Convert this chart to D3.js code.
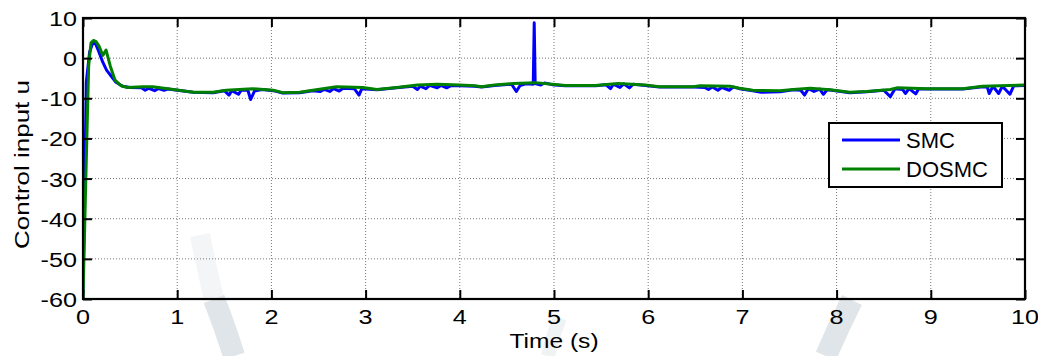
<!DOCTYPE html>
<html>
<head>
<meta charset="utf-8">
<script src="https://cdn.jsdelivr.net/npm/d3@7"></script>
<style>
  body { margin: 0; background: #fff; }
  text { font-family: "Liberation Sans", Arial, sans-serif; fill: #000; }
</style>
</head>
<body>
<div id="chart"></div>
<script>
// time ticks and value ticks
const xTicks = [0, 1, 2, 3, 4, 5, 6, 7, 8, 9, 10];
const yTicks = [-60, -50, -40, -30, -20, -10, 0, 10];

// DOSMC control input [t, u]
const dosmc = [
  [0, -60], [0.03, -30], [0.06, -2], [0.085, 3.8], [0.11, 4.4], [0.14, 4.1],
  [0.17, 3.0], [0.21, 0.7], [0.245, 2.0], [0.29, -2], [0.34, -5.5], [0.40, -6.8],
  [0.47, -7.3], [0.64, -7.1], [0.74, -7.1], [0.96, -7.8], [1.17, -8.5], [1.38, -8.5],
  [1.52, -8.0], [1.8, -7.6], [2.02, -8.0], [2.12, -8.6], [2.3, -8.5], [2.44, -8.0],
  [2.69, -7.1], [2.97, -7.3], [3.12, -7.8], [3.33, -7.3], [3.55, -6.7], [3.76, -6.5],
  [4.0, -6.7], [4.16, -6.9], [4.23, -7.1], [4.37, -6.7], [4.57, -6.3], [4.8, -6.1],
  [4.98, -6.5], [5.12, -6.8], [5.44, -6.8], [5.68, -6.3], [5.97, -6.7], [6.12, -7.1],
  [6.48, -7.1], [6.55, -6.9], [6.87, -7.0], [6.97, -7.5], [7.11, -8.0], [7.4, -8.1],
  [7.54, -7.8], [7.72, -7.5], [7.93, -7.9], [8.14, -8.5], [8.32, -8.3], [8.57, -7.8],
  [8.64, -7.4], [8.96, -7.6], [9.34, -7.6], [9.55, -7.0], [10, -6.7]
];

// SMC control input, with the chattering dips and the spike near 4.8 s
const smc = [
  [0, -58], [0.02, -30], [0.035, -6], [0.07, 1.5], [0.1, 3.5], [0.13, 3.8],
  [0.17, 1.5], [0.21, -1], [0.25, -3], [0.29, -4.2], [0.35, -6], [0.42, -7],
  [0.5, -7.3], [0.62, -7.4], [0.66, -8.0], [0.7, -7.5], [0.76, -8.1], [0.8, -7.6],
  [0.86, -8.0], [0.9, -7.7], [0.96, -7.9], [1.17, -8.5], [1.38, -8.6], [1.5, -8.1],
  [1.55, -9.2], [1.58, -8.1], [1.65, -9.0], [1.68, -8.0], [1.75, -8.0], [1.78, -10.3],
  [1.82, -8.2], [1.9, -7.8], [2.02, -8.1], [2.12, -8.7], [2.3, -8.6], [2.44, -8.1],
  [2.52, -8.3], [2.56, -7.8], [2.62, -8.3], [2.66, -7.6], [2.72, -8.2], [2.76, -7.5],
  [2.88, -7.6], [2.93, -9.2], [2.96, -7.6], [3.12, -7.9], [3.33, -7.4], [3.5, -7.0],
  [3.55, -7.8], [3.58, -7.0], [3.64, -7.6], [3.68, -6.8], [3.76, -7.4], [3.8, -6.8],
  [3.86, -7.4], [3.9, -6.9], [4.0, -6.9], [4.16, -7.0], [4.23, -7.2], [4.37, -6.8],
  [4.55, -6.5], [4.6, -8.3], [4.64, -6.8], [4.7, -6.4], [4.78, -6.5], [4.79, 8.8],
  [4.8, -6.3], [4.86, -6.7], [4.9, -6.2], [4.98, -6.6], [5.12, -6.9], [5.44, -6.9],
  [5.55, -6.6], [5.6, -7.6], [5.63, -6.5], [5.7, -7.3], [5.74, -6.4], [5.8, -7.4],
  [5.84, -6.5], [5.97, -6.8], [6.12, -7.2], [6.48, -7.2], [6.6, -7.3], [6.64, -7.8],
  [6.68, -7.2], [6.74, -8.0], [6.78, -7.3], [6.86, -8.0], [6.9, -7.2], [6.97, -7.6],
  [7.11, -8.1], [7.2, -8.5], [7.4, -8.4], [7.54, -7.9], [7.62, -8.0], [7.66, -9.2],
  [7.7, -7.6], [7.76, -8.3], [7.82, -7.7], [7.86, -9.0], [7.9, -7.9], [7.95, -8.0],
  [8.14, -8.6], [8.32, -8.4], [8.5, -8.0], [8.57, -9.6], [8.62, -7.6], [8.7, -7.8],
  [8.73, -8.8], [8.77, -7.6], [8.84, -8.9], [8.87, -7.7], [8.96, -7.7], [9.34, -7.7],
  [9.55, -7.1], [9.6, -7.2], [9.62, -8.8], [9.66, -7.0], [9.72, -8.8], [9.76, -7.0],
  [9.84, -9.0], [9.88, -6.9], [10, -6.8]
];

const seriesNames = ["SMC", "DOSMC"];
const seriesColors = ["#0000ff", "#008000"];

// layout
const W = 1038, H = 356;
const margin = { top: 18, right: 13, bottom: 57, left: 83 };
const width = W - margin.left - margin.right;
const height = H - margin.top - margin.bottom;

const svg = d3.select("#chart")
  .append("svg")
  .attr("width", W)
  .attr("height", H);

// faint watermark from the scanned page, stronger below the axes
const wm = svg.append("g").attr("fill", "none");
wm.append("path").attr("d", "M200,235 Q207,270 214,299")
  .attr("stroke", "#f3f5f6").attr("stroke-width", 20);
wm.append("path").attr("d", "M214,299 Q226,330 234,356")
  .attr("stroke", "#dfe5e8").attr("stroke-width", 22);
wm.append("path").attr("d", "M852,300 Q838,328 826,356")
  .attr("stroke", "#dfe5e8").attr("stroke-width", 22);
wm.append("path").attr("d", "M560,318 Q552,338 548,356")
  .attr("stroke", "#f0f3f4").attr("stroke-width", 14);

const g = svg.append("g")
  .attr("transform", "translate(" + margin.left + "," + margin.top + ")");

const x = d3.scaleLinear().domain([0, 10]).range([0, width]);
const y = d3.scaleLinear().domain([-60, 10]).range([height, 0]);

// dotted grid
g.append("g")
  .selectAll("line")
  .data(xTicks.slice(1, -1))
  .enter().append("line")
  .attr("x1", d => x(d)).attr("x2", d => x(d))
  .attr("y1", 0).attr("y2", height)
  .attr("stroke", "#777").attr("stroke-width", 1).attr("stroke-dasharray", "1,2");

g.append("g")
  .selectAll("line")
  .data(yTicks.slice(1, -1))
  .enter().append("line")
  .attr("y1", d => y(d)).attr("y2", d => y(d))
  .attr("x1", 0).attr("x2", width)
  .attr("stroke", "#777").attr("stroke-width", 1).attr("stroke-dasharray", "1,2");

// lines, clipped to the axes box
g.append("clipPath").attr("id", "clip")
  .append("rect").attr("width", width).attr("height", height);

const line = d3.line().x(d => x(d[0])).y(d => y(d[1]));

const plot = g.append("g").attr("clip-path", "url(#clip)");
[smc, dosmc].forEach((s, i) => {
  plot.append("path")
    .datum(s)
    .attr("fill", "none")
    .attr("stroke", seriesColors[i])
    .attr("stroke-width", 3)
    .attr("stroke-linejoin", "round")
    .attr("d", line);
});

// axes with inward ticks on all four sides (labels drawn below)
const tickLen = 9;
g.append("g")
  .attr("transform", "translate(0," + height + ")")
  .call(d3.axisBottom(x).tickValues(xTicks).tickSizeInner(-tickLen).tickSizeOuter(0).tickFormat(""));
g.append("g")
  .call(d3.axisTop(x).tickValues(xTicks).tickSizeInner(-tickLen).tickSizeOuter(0).tickFormat(""));
g.append("g")
  .call(d3.axisLeft(y).tickValues(yTicks).tickSizeInner(-tickLen).tickSizeOuter(0).tickFormat(""));
g.append("g")
  .attr("transform", "translate(" + width + ",0)")
  .call(d3.axisRight(y).tickValues(yTicks).tickSizeInner(-tickLen).tickSizeOuter(0).tickFormat(""));

g.selectAll(".domain").remove();
g.selectAll(".tick line").attr("stroke", "#000").attr("stroke-width", 2);

// tick labels, a bit wider than plain Arial like the original export
const stretch = 1.2;
g.append("g")
  .selectAll("text")
  .data(xTicks)
  .enter().append("text")
  .attr("transform", d => "translate(" + x(d) + "," + (height + 25) + ") scale(" + stretch + ",1)")
  .attr("text-anchor", "middle")
  .style("font-size", "21px")
  .text(d => d);

g.append("g")
  .selectAll("text")
  .data(yTicks)
  .enter().append("text")
  .attr("transform", d => "translate(-6," + (y(d) + 8) + ") scale(" + stretch + ",1)")
  .attr("text-anchor", "end")
  .style("font-size", "21px")
  .text(d => d);

// box
g.append("rect")
  .attr("width", width).attr("height", height)
  .attr("fill", "none").attr("stroke", "#000").attr("stroke-width", 2.2);

// axis titles
svg.append("text")
  .attr("transform", "translate(" + (margin.left + width / 2) + ",348) scale(1.17,1)")
  .attr("text-anchor", "middle")
  .style("font-size", "21px")
  .text("Time (s)");

svg.append("text")
  .attr("transform", "translate(29," + (margin.top + height / 2 + 6) + ") rotate(-90) scale(1.3,1)")
  .attr("text-anchor", "middle")
  .style("font-size", "20px")
  .text("Control input u");

// legend
const leg = svg.append("g").attr("transform", "translate(829,123)");
leg.append("rect")
  .attr("width", 173).attr("height", 64)
  .attr("fill", "#fff").attr("stroke", "#000").attr("stroke-width", 2);
seriesNames.forEach((name, i) => {
  const ly = 17 + i * 29;
  leg.append("line")
    .attr("x1", 13).attr("x2", 71).attr("y1", ly).attr("y2", ly)
    .attr("stroke", seriesColors[i]).attr("stroke-width", 3);
  leg.append("text")
    .attr("x", 77).attr("y", ly + 8)
    .style("font-size", "22px")
    .text(name);
});
</script>
</body>
</html>
